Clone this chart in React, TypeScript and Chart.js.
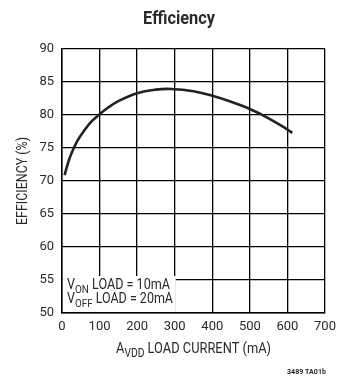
import React, { useEffect, useRef } from "react";
import { Chart, registerables } from "chart.js";

Chart.register(...registerables);

const loadCurrent = [7, 18, 29, 42, 56, 78, 100, 122, 150, 200, 250, 290, 350, 400, 450, 500, 550, 600, 613];
const efficiency = [70.9, 73.1, 74.7, 76.2, 77.4, 79.0, 80.1, 81.1, 82.1, 83.3, 83.85, 83.95, 83.6, 82.9, 82.0, 80.9, 79.5, 77.8, 77.3];

const xTicks = [0, 100, 200, 300, 400, 500, 600, 700];
const yTicks = [50, 55, 60, 65, 70, 75, 80, 85, 90];

const FONT = '"Liberation Sans Narrow", "Roboto", "DejaVu Sans Condensed", sans-serif';
const INK = "#2a2a2a";

type Seg = { t: string; sub?: boolean };

// draws a run of text (with subscripts), condensed to fit a target width
function drawSegs(
  ctx: CanvasRenderingContext2D,
  segs: Seg[],
  x: number,
  y: number,
  size: number,
  align: "left" | "center",
  target: number,
  weight = ""
) {
  const fontFor = (s: Seg) => `${weight} ${s.sub ? Math.round(size * 0.8) : size}px ${FONT}`;
  const widths = segs.map((s) => {
    ctx.font = fontFor(s);
    return ctx.measureText(s.t).width;
  });
  const total = widths.reduce((a, b) => a + b, 0);
  const sx = Math.min(1, target / total);
  const start = align === "center" ? x - (total * sx) / 2 : x;
  ctx.save();
  ctx.translate(start, y);
  ctx.scale(sx, 1);
  ctx.textAlign = "left";
  ctx.textBaseline = "alphabetic";
  let cx = 0;
  segs.forEach((s, i) => {
    ctx.font = fontFor(s);
    ctx.fillText(s.t, cx, s.sub ? size * 0.25 : 0);
    cx += widths[i];
  });
  ctx.restore();
}

const decor = {
  id: "decor",
  beforeDatasetsDraw(chart: any) {
    const { ctx, scales } = chart;
    const xs = scales.x;
    const ys = scales.y;
    ctx.save();
    ctx.fillStyle = "#ffffff";
    const x0 = xs.getPixelForValue(0) + 1;
    const x1 = xs.getPixelForValue(300) + 1;
    const y0 = ys.getPixelForValue(55) - 4;
    const y1 = ys.getPixelForValue(50) - 1;
    ctx.fillRect(x0, y0, x1 - x0, y1 - y0);
    ctx.fillStyle = INK;
    drawSegs(ctx, [{ t: "V" }, { t: "ON", sub: true }, { t: " LOAD = 10mA" }], x0 + 4, y0 + 13, 14, "left", 103);
    drawSegs(ctx, [{ t: "V" }, { t: "OFF", sub: true }, { t: " LOAD = 20mA" }], x0 + 4, y0 + 27, 14, "left", 106);
    ctx.restore();
  },
  afterDraw(chart: any) {
    const { ctx, chartArea } = chart;
    ctx.save();
    ctx.fillStyle = INK;
    drawSegs(ctx, [{ t: "Efficiency" }], 179, 24, 19, "center", 72, "bold");
    const cx = (chartArea.left + chartArea.right) / 2;
    drawSegs(ctx, [{ t: "A" }, { t: "VDD", sub: true }, { t: " LOAD CURRENT (mA)" }], cx, 353, 15, "center", 155);
    ctx.save();
    ctx.translate(27, (chartArea.top + chartArea.bottom) / 2);
    ctx.rotate(-Math.PI / 2);
    drawSegs(ctx, [{ t: "EFFICIENCY (%)" }], 0, 0, 14, "center", 88);
    ctx.restore();
    drawSegs(ctx, [{ t: "3489 TA01b" }], 287, 374, 8, "left", 39, "bold");
    ctx.restore();
  },
};

export default function App() {
  const ref = useRef<HTMLCanvasElement | null>(null);
  useEffect(() => {
    if (!ref.current) return;
    const chart = new Chart(ref.current, {
      type: "line",
      data: {
        datasets: [
          {
            data: loadCurrent.map((x, i) => ({ x, y: efficiency[i] })),
            borderColor: "#222222",
            borderWidth: 2.6,
            pointRadius: 0,
            fill: false,
            tension: 0.4,
          },
        ],
      },
      options: {
        animation: false,
        responsive: false,
        events: [],
        layout: { padding: { top: 49, right: 34, left: 0, bottom: 0 } },
        plugins: { legend: { display: false }, tooltip: { enabled: false }, title: { display: false } },
        scales: {
          x: {
            type: "linear",
            min: 0,
            max: 700,
            afterBuildTicks: (s: any) => {
              s.ticks = xTicks.map((v) => ({ value: v }));
            },
            afterFit: (s: any) => {
              s.height = 67;
            },
            grid: { color: "#000", lineWidth: 1.3, drawTicks: false },
            border: { color: "#000", width: 1.5 },
            ticks: { color: INK, font: { family: FONT, size: 13 }, padding: 6, maxRotation: 0, autoSkip: false },
          },
          y: {
            type: "linear",
            min: 50,
            max: 90,
            afterBuildTicks: (s: any) => {
              s.ticks = yTicks.map((v) => ({ value: v }));
            },
            afterFit: (s: any) => {
              s.width = 62;
            },
            grid: { color: "#000", lineWidth: 1.3, drawTicks: false },
            border: { color: "#000", width: 1.5 },
            ticks: { color: INK, font: { family: FONT, size: 13 }, padding: 8 },
          },
        },
      },
      plugins: [decor],
    });
    return () => chart.destroy();
  }, []);
  return (
    <div style={{ position: "absolute", left: 0, top: 0, width: 359, height: 380, background: "#fff" }}>
      <canvas ref={ref} width={359} height={380} style={{ display: "block" }} />
    </div>
  );
}
